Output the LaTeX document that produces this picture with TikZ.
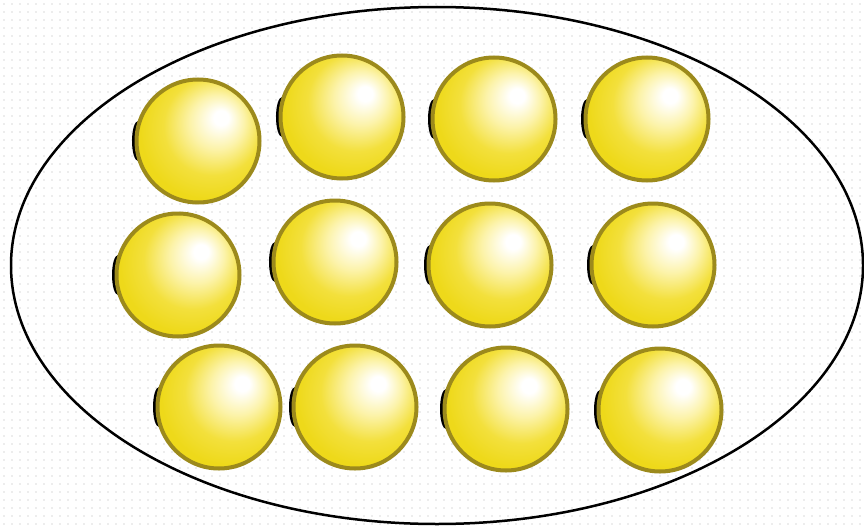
\documentclass[tikz,border=0pt]{standalone}
\usepackage{xcolor}
\usepackage{tikz}
\usetikzlibrary{positioning}
\definecolor{ballyellow}{HTML}{EED91A}
\definecolor{ballmid}{HTML}{F3E03C}
\definecolor{balllight}{HTML}{FCF3AA}
\definecolor{ballrim}{HTML}{F8EE9E}
\definecolor{balledge}{HTML}{9C8A1C}
\definecolor{dotgray}{HTML}{DCDCDC}
\pgfdeclareradialshading{glassball}{\pgfqpoint{10bp}{10bp}}{%
  color(0bp)=(white); color(3bp)=(white); color(11bp)=(balllight);
  color(20bp)=(ballmid); color(28bp)=(ballyellow); color(34bp)=(ballyellow);
  color(38bp)=(ballrim); color(50bp)=(ballrim)}
\tikzset{
  ball/.style={circle,minimum size=123,inner sep=0pt,draw=balledge,line width=4,shading=glassball}
}

\begin{document}
\begin{tikzpicture}[x=1pt,y=-1pt]
  \useasboundingbox (0,0) rectangle (864,527);
  \fill[white] (0,0) rectangle (864,527);
  \foreach \i in {0,...,107}{
    \foreach \j in {0,...,65}{
      \fill[dotgray] (4+8*\i,4+8*\j) circle (0.8);
    }
  }
  \draw[line width=2.5] (437,265.5) ellipse (426 and 258.5);
  \foreach \n/\x/\y in {a1/198/141, a2/342/117, a3/494/119, a4/647/119,
                        b1/178/275, b2/335/262, b3/490/265, b4/653/265,
                        c1/219/407, c2/355/407, c3/506/409, c4/660/410}{
    \fill[black] (\x-60,\y) ellipse (6 and 20);
    \node[ball] (\n) at (\x,\y) {};
  }
\end{tikzpicture}
\end{document}
